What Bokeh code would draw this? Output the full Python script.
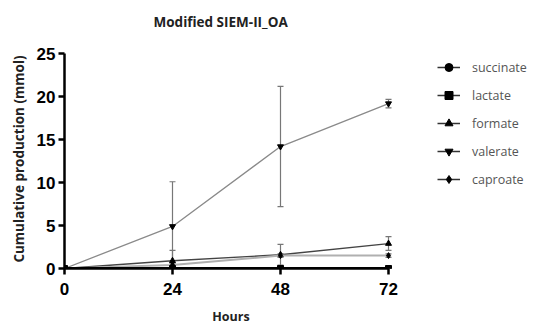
from bokeh.plotting import figure
from bokeh.models import Range1d, FixedTicker, Legend, LegendItem, ColumnDataSource, Whisker, TeeHead
from bokeh.embed import file_html
from bokeh.resources import INLINE

title_text = "Modified SIEM-II_OA"
hours = [0, 24, 48, 72]
succinate = [0.0, 0.0, 0.0, 0.0]
succinate_err = [0.0, 0.0, 0.0, 0.0]
lactate = [0.0, 0.0, 0.0, 0.0]
lactate_err = [0.0, 0.0, 0.0, 0.0]
formate = [0.0, 0.9, 1.6, 2.9]
formate_err = [0.0, 1.2, 1.2, 0.8]
valerate = [0.0, 4.9, 14.2, 19.2]
valerate_err = [0.0, 5.2, 7.0, 0.5]
caproate = [0.0, 0.4, 1.5, 1.5]
caproate_err = [0.0, 0.2, 0.2, 0.2]

x_ticks = [0, 24, 48, 72]
y_ticks = [0, 5, 10, 15, 20, 25]

p = figure(frame_width=333, frame_height=219, output_backend="svg", toolbar_location=None,
           x_range=Range1d(0, 74), y_range=Range1d(0, 25.5),
           min_border_left=64, min_border_right=140, min_border_top=49, min_border_bottom=56,
           title=title_text + "\n ")
p.outline_line_color = None
p.grid.visible = False
p.background_fill_color = "white"

p.title.align = "left"
p.title.offset = 89
p.title.text_font = "Open Sans"
p.title.text_font_size = "13.5px"
p.title.text_font_style = "bold"
p.title.text_color = "#222222"
p.title.standoff = 2

for ax in (p.xaxis[0], p.yaxis[0]):
    ax.axis_line_width = 2.5
    ax.axis_line_color = "black"
    ax.major_tick_line_width = 2.5
    ax.major_tick_out = 6
    ax.major_tick_in = 0
    ax.minor_tick_line_color = None
    ax.major_label_text_font = "Liberation Sans"
    ax.major_label_text_font_style = "bold"
    ax.major_label_text_font_size = "17px"
    ax.major_label_text_color = "black"
    ax.axis_label_text_font = "Open Sans"
    ax.axis_label_text_font_style = "bold"
    ax.axis_label_text_color = "#222222"

p.xaxis.axis_label_text_font_size = "12.5px"
p.yaxis.axis_label_text_font_size = "13.5px"
p.xaxis.ticker = FixedTicker(ticks=x_ticks)
p.yaxis.ticker = FixedTicker(ticks=y_ticks)
p.xaxis.bounds = (0, 72)
p.yaxis.bounds = (0, 25)
p.xaxis.axis_label = "Hours"
p.yaxis.axis_label = "Cumulative production (mmol)"
p.xaxis.major_label_standoff = 8
p.yaxis.major_label_standoff = 3
p.xaxis.axis_label_standoff = 10
p.yaxis.axis_label_standoff = 6

series = [
    ("succinate", succinate, succinate_err, "circle", "black", 3.0, 5),
    ("lactate", lactate, lactate_err, "square", "black", 3.0, 6),
    ("formate", formate, formate_err, "triangle", "#444444", 1.4, 6),
    ("valerate", valerate, valerate_err, "inverted_triangle", "#8a8a8a", 1.3, 6),
    ("caproate", caproate, caproate_err, "diamond", "#b0b0b0", 2.0, 6),
]

draw_order = [3, 2, 4, 1, 0]
for i in draw_order:
    name, vals, err, marker, color, lw, size = series[i]
    src = ColumnDataSource(dict(x=hours, y=vals,
                                upper=[v + e for v, e in zip(vals, err)],
                                lower=[max(v - e, 0) for v, e in zip(vals, err)]))
    w = Whisker(source=src, base="x", upper="upper", lower="lower",
                line_color="#777777", line_width=1.2,
                upper_head=TeeHead(size=6, line_color="#777777", line_width=1.2),
                lower_head=TeeHead(size=6, line_color="#777777", line_width=1.2))
    p.add_layout(w)
    p.line("x", "y", source=src, line_color=color, line_width=lw)
    p.scatter("x", "y", source=src, marker=marker, size=size,
              fill_color="black", line_color="black")

# legend swatches (NaN data: drawn only in the legend)
nan = float("nan")
items = []
for name, vals, err, marker, color, lw, size in series:
    swatch = ColumnDataSource(dict(x=[nan], y=[nan]))
    ll = p.line("x", "y", source=swatch, line_color="#333333", line_width=1.5)
    ss = p.scatter("x", "y", source=swatch, marker=marker, size=size,
                   fill_color="black", line_color="black")
    items.append(LegendItem(label=name, renderers=[ll, ss]))

legend = Legend(items=items, location=(40, 79), orientation="vertical",
                glyph_width=23, glyph_height=20, spacing=8, padding=0, margin=0,
                label_standoff=12, label_text_font="Open Sans", label_text_font_size="12.5px",
                label_text_color="#555555", border_line_color=None,
                background_fill_alpha=0)
p.add_layout(legend, "right")

open("out.html", "w").write(file_html(p, INLINE))
